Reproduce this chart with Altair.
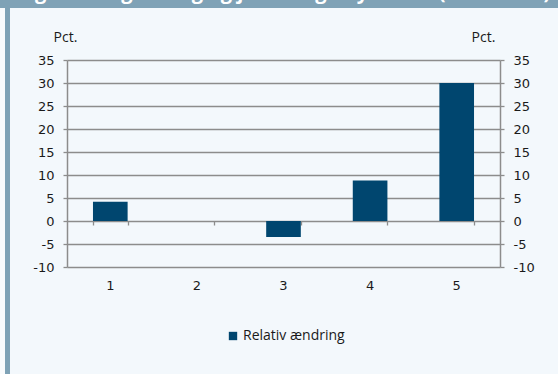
import altair as alt
import pandas as pd

# Categories and relative change (pct.)
categories = ["1", "2", "3", "4", "5"]
values = [4.2, 0.0, -3.5, 8.8, 30.0]
series_name = "Relativ ændring"
y_ticks = [-10, -5, 0, 5, 10, 15, 20, 25, 30, 35]

df = pd.DataFrame({"kategori": categories, "pct": values, "serie": series_name})

BAR = "#00466f"
GRID = "#8c8c8c"
BG = "#f3f8fc"
FRAME = "#7fa2b6"
TEXT = "#1a1a1a"
FONT = "Open Sans"
NUM_FONT = "DejaVu Sans"
PLAIN_NUMBER = "'' + datum.value"

x_scale = alt.Scale(paddingInner=0.6, paddingOuter=0.3)
y_scale = alt.Scale(domain=[-10, 35], nice=False, zero=False)

# Frame: header band, left border strip
one = alt.Data(values=[{}])
header = alt.Chart(one).mark_rect(color=FRAME).encode(
    x=alt.value(-67), x2=alt.value(491), y=alt.value(-60), y2=alt.value(-52)
)
left_gap = alt.Chart(one).mark_rect(color="#f9fbfd").encode(
    x=alt.value(-67), x2=alt.value(-62), y=alt.value(-52), y2=alt.value(314)
)
left_border = alt.Chart(one).mark_rect(color=FRAME).encode(
    x=alt.value(-62), x2=alt.value(-57), y=alt.value(-52), y2=alt.value(314)
)
heading = alt.Chart(one).mark_text(
    text="Figur 4: Regulering og justering af ydelsen (2019-2023)",
    font=FONT, fontSize=20, fontWeight="bold", color="white",
    align="left", baseline="alphabetic",
).encode(x=alt.value(-49), y=alt.value(-61))

bars = alt.Chart(df).mark_bar(color=BAR).encode(
    x=alt.X("kategori:N", scale=x_scale, sort=categories,
            axis=alt.Axis(title=None, orient="bottom", domain=False, ticks=False,
                          labelAngle=0, labelPadding=12, labelFont=NUM_FONT,
                          labelFontSize=13, labelColor=TEXT)),
    y=alt.Y("pct:Q", scale=y_scale,
            axis=alt.Axis(title="Pct.", orient="left", values=y_ticks,
                          labelExpr=PLAIN_NUMBER,
                          grid=True, gridColor=GRID, gridWidth=1.3,
                          domainColor=GRID, domainWidth=1.5,
                          tickColor=GRID, tickSize=4, tickWidth=1.3,
                          labelFont=NUM_FONT, labelFontSize=13, labelColor=TEXT,
                          labelPadding=9,
                          titleAngle=0, titleAlign="center", titleBaseline="bottom",
                          titleX=-2, titleY=-16, titleFont=FONT, titleFontSize=14,
                          titleFontWeight="normal", titleColor=TEXT)),
    color=alt.Color("serie:N", scale=alt.Scale(range=[BAR]),
                    legend=alt.Legend(title=None, orient="none", legendX=159, legendY=269,
                                      symbolType="square", symbolSize=70,
                                      symbolStrokeWidth=0, labelFont=FONT,
                                      labelFontSize=14, labelColor=TEXT, labelOffset=3)),
)

# Mirror axis on the right and category ticks along the zero line
mirror = alt.Chart(df).mark_bar(opacity=0).encode(
    x=alt.X("kategori:N", scale=x_scale, sort=categories,
            axis=alt.Axis(title=None, orient="bottom", labels=False, domain=False,
                          ticks=True, tickBand="extent", tickSize=4, tickColor=GRID,
                          tickWidth=1.3, offset=alt.ExprRef("scale('y', 0) - height"))),
    y=alt.Y("pct:Q", scale=y_scale,
            axis=alt.Axis(title="Pct.", orient="right", values=y_ticks, grid=False,
                          labelExpr=PLAIN_NUMBER,
                          domainColor=GRID, domainWidth=1.5,
                          tickColor=GRID, tickSize=4, tickWidth=1.3,
                          labelFont=NUM_FONT, labelFontSize=13, labelColor=TEXT,
                          labelPadding=9,
                          titleAngle=0, titleAlign="center", titleBaseline="bottom",
                          titleX=-17, titleY=-16, titleFont=FONT, titleFontSize=14,
                          titleFontWeight="normal", titleColor=TEXT)),
)

chart = (
    alt.layer(bars, mirror, header, left_gap, left_border, heading)
    .resolve_axis(x="independent", y="independent")
    .properties(
        width=433, height=207,
        autosize=alt.AutoSizeParams(type="none"),
        padding={"left": 67, "top": 60, "right": 58, "bottom": 107},
        background=BG,
    )
    .configure_view(stroke=None)
)

chart.save("out.html", embed_options={"renderer": "svg", "actions": False})
